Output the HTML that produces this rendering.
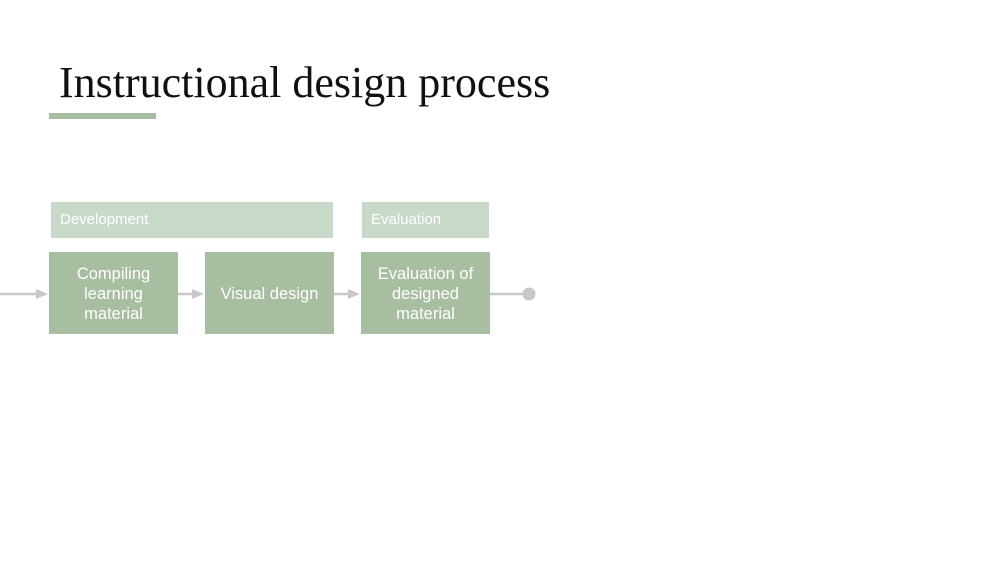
<!DOCTYPE html>
<html><head><style>
body{margin:0;width:1000px;height:563px;background:#fff;position:relative;overflow:hidden;font-family:"Liberation Sans",sans-serif}
.a{position:absolute}
.h{background:#c9d9c9;color:#fff;font-size:15px;line-height:36px;padding-left:9px;box-sizing:border-box;height:36px;top:202px}
.b{background:#a7bfa0;color:#fff;font-size:16.5px;line-height:20px;text-align:center;top:252px;height:82px;width:129px;display:flex;align-items:center;justify-content:center;box-sizing:border-box;padding-top:2px}
</style></head><body>
<div class="a" style="left:59px;top:58px;font-family:'Liberation Serif',serif;font-size:44px;color:#111;line-height:50px">Instructional design process</div>
<div class="a" style="left:49px;top:113px;width:107px;height:6px;background:#a7bfa0"></div>
<div class="a h" style="left:51px;width:282px">Development</div>
<div class="a h" style="left:362px;width:127px">Evaluation</div>
<div class="a b" style="left:49px">Compiling<br>learning<br>material</div>
<div class="a b" style="left:205px">Visual design</div>
<div class="a b" style="left:361px">Evaluation of<br>designed<br>material</div>
<svg class="a" style="left:0;top:0" width="1000" height="563">
<g stroke="#c8c8c8" stroke-width="2.5" fill="#c8c8c8">
<line x1="0" y1="294" x2="38" y2="294"/><polygon points="36,289 48,294 36,299" stroke="none"/>
<line x1="178" y1="294" x2="194" y2="294"/><polygon points="192,289 204,294 192,299" stroke="none"/>
<line x1="334" y1="294" x2="350" y2="294"/><polygon points="348,289 360,294 348,299" stroke="none"/>
<line x1="490" y1="294" x2="524" y2="294"/><circle cx="529" cy="294" r="6.5" stroke="none"/>
</g></svg>
</body></html>
